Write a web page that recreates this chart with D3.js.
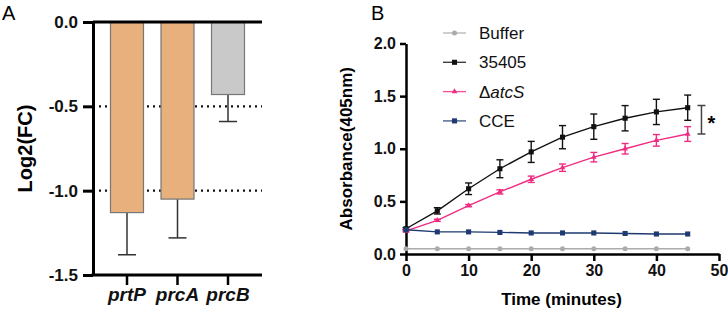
<!DOCTYPE html>
<html>
<head>
<meta charset="utf-8">
<script src="https://cdn.jsdelivr.net/npm/d3@7"></script>
<style>
  body { margin: 0; background: #fff; }
  svg { font-family: "Liberation Sans", Arial, sans-serif; }
</style>
</head>
<body>
<svg id="chart" width="728" height="312"></svg>
<script>
// Panel A data
const genes = ["prtP", "prcA", "prcB"];
const log2fc = [-1.13, -1.05, -0.43];
const log2fcErr = [0.25, 0.23, 0.16];
const barColors = ["#E8B07C", "#E8B07C", "#C9C9C9"];
const fcTicks = [0, -0.5, -1.0, -1.5];
const refLines = [-0.5, -1.0];

// Panel B data
const time = [0, 5, 10, 15, 20, 25, 30, 35, 40, 45];
const buffer = [0.05, 0.05, 0.05, 0.05, 0.05, 0.05, 0.05, 0.05, 0.05, 0.05];
const wt35405 = [0.24, 0.41, 0.62, 0.81, 0.97, 1.11, 1.21, 1.29, 1.35, 1.39];
const wt35405Err = [0.01, 0.03, 0.055, 0.085, 0.1, 0.11, 0.12, 0.12, 0.12, 0.12];
const atcS = [0.22, 0.32, 0.46, 0.59, 0.71, 0.82, 0.92, 1.0, 1.08, 1.14];
const atcSErr = [0.01, 0.01, 0.01, 0.02, 0.03, 0.035, 0.045, 0.05, 0.055, 0.07];
const cce = [0.23, 0.21, 0.21, 0.205, 0.2, 0.2, 0.2, 0.195, 0.19, 0.19];
const absTicks = [0, 0.5, 1.0, 1.5, 2.0];
const timeTicks = [0, 10, 20, 30, 40, 50];

const svg = d3.select("#chart");

// ---------- Panel A ----------
const xA = d3.scaleBand().domain(genes).range([93, 262]).padding(0.3465);
const yA = d3.scaleLinear().domain([-1.5, 0]).range([275, 22]);

svg.append("text").attr("x", 2).attr("y", 20)
  .style("font-size", "20px").text("A");

// dotted reference lines
svg.selectAll(".ref").data(refLines).enter().append("line")
  .attr("x1", 93).attr("x2", 262)
  .attr("y1", d => yA(d)).attr("y2", d => yA(d))
  .attr("stroke", "#111").attr("stroke-width", 2.2)
  .attr("stroke-dasharray", "2,4");

const barsA = genes.map((g, i) => ({ g, v: log2fc[i], e: log2fcErr[i], c: barColors[i] }));

// error bars (downward only)
const errA = svg.selectAll(".errA").data(barsA).enter().append("g");
errA.append("line")
  .attr("x1", d => xA(d.g) + xA.bandwidth() / 2).attr("x2", d => xA(d.g) + xA.bandwidth() / 2)
  .attr("y1", d => yA(d.v)).attr("y2", d => yA(d.v - d.e))
  .attr("stroke", "#333").attr("stroke-width", 1.5);
errA.append("line")
  .attr("x1", d => xA(d.g) + xA.bandwidth() / 2 - 9).attr("x2", d => xA(d.g) + xA.bandwidth() / 2 + 9)
  .attr("y1", d => yA(d.v - d.e)).attr("y2", d => yA(d.v - d.e))
  .attr("stroke", "#333").attr("stroke-width", 1.5);

svg.selectAll(".barA").data(barsA).enter().append("rect")
  .attr("x", d => xA(d.g))
  .attr("y", yA(0))
  .attr("width", xA.bandwidth())
  .attr("height", d => yA(d.v) - yA(0))
  .attr("fill", d => d.c)
  .attr("stroke", "#777").attr("stroke-width", 1.2);

// y axis
const yAxisA = svg.append("g").attr("transform", "translate(93,0)")
  .call(d3.axisLeft(yA).tickValues(fcTicks).tickFormat(d3.format(".1f")).tickSize(10).tickSizeOuter(0));
yAxisA.select(".domain").attr("stroke-width", 3);
yAxisA.selectAll(".tick line").attr("stroke-width", 3);
yAxisA.selectAll(".tick text").attr("x", -15)
  .style("font-size", "17px").style("font-weight", "bold").attr("fill", "#111")
  .text(d => d === 0 ? "0.0" : d3.format(".1f")(d).replace("−", "-"));

// top zero line
svg.append("line").attr("x1", 93).attr("x2", 262)
  .attr("y1", yA(0)).attr("y2", yA(0))
  .attr("stroke", "#000").attr("stroke-width", 3);

// bottom axis with category ticks
const xAxisA = svg.append("g").attr("transform", `translate(0,${yA(-1.5)})`)
  .call(d3.axisBottom(xA).tickSize(10).tickSizeOuter(0));
xAxisA.select(".domain").attr("stroke-width", 3).attr("d", "M91.5,0H262");
xAxisA.selectAll(".tick line").attr("stroke-width", 2.5);
xAxisA.selectAll(".tick text").attr("y", 13)
  .style("font-size", "19px").style("font-weight", "bold").style("font-style", "italic")
  .attr("fill", "#111");

svg.append("text")
  .attr("transform", `translate(32,${(yA(0) + yA(-1.5)) / 2}) rotate(-90)`)
  .attr("text-anchor", "middle")
  .style("font-size", "20px").style("font-weight", "bold")
  .text("Log2(FC)");

// ---------- Panel B ----------
const xB = d3.scaleLinear().domain([0, 50]).range([406, 719]);
const yB = d3.scaleLinear().domain([0, 2]).range([254, 43.5]);

svg.append("text").attr("x", 371).attr("y", 20)
  .style("font-size", "20px").text("B");

const series = [
  { name: "Buffer", vals: buffer, err: null, color: "#ABABAB", shape: "circle" },
  { name: "35405", vals: wt35405, err: wt35405Err, color: "#111111", shape: "square" },
  { name: "ΔatcS", vals: atcS, err: atcSErr, color: "#EE2D82", shape: "triangle" },
  { name: "CCE", vals: cce, err: null, color: "#1E3A70", shape: "square" }
];

function symbolFor(s) {
  if (s.shape === "circle") return d3.symbol(d3.symbolCircle, 20)();
  if (s.shape === "triangle") return d3.symbol(d3.symbolTriangle, 14)();
  return d3.symbol(d3.symbolSquare, 26)();
}

const line = d3.line().x(d => xB(d[0])).y(d => yB(d[1]));

// axes
const yAxisB = svg.append("g").attr("transform", "translate(406,0)")
  .call(d3.axisLeft(yB).tickValues(absTicks).tickFormat(d3.format(".1f")).tickSize(6).tickSizeOuter(0));
yAxisB.select(".domain").attr("stroke-width", 2.5);
yAxisB.selectAll(".tick line").attr("stroke-width", 2.5);
yAxisB.selectAll(".tick text").attr("x", -10)
  .style("font-size", "16px").style("font-weight", "bold").attr("fill", "#111");

const xAxisB = svg.append("g").attr("transform", `translate(0,${yB(0)})`)
  .call(d3.axisBottom(xB).tickValues(timeTicks).tickSize(7).tickSizeOuter(0));
xAxisB.select(".domain").attr("stroke-width", 2.5);
xAxisB.selectAll(".tick line").attr("stroke-width", 2.5);
xAxisB.selectAll(".tick text").attr("y", 11)
  .style("font-size", "16px").style("font-weight", "bold").attr("fill", "#111");

svg.append("text")
  .attr("x", (xB(0) + xB(50)) / 2 - 1).attr("y", 305)
  .attr("text-anchor", "middle")
  .style("font-size", "17px").style("font-weight", "bold")
  .text("Time (minutes)");

svg.append("text")
  .attr("transform", `translate(352,${(yB(0) + yB(2)) / 2}) rotate(-90)`)
  .attr("text-anchor", "middle")
  .style("font-size", "17px").style("font-weight", "bold")
  .text("Absorbance(405nm)");

// series
series.forEach(s => {
  const pts = time.map((t, i) => [t, s.vals[i], s.err ? s.err[i] : 0]);
  const g = svg.append("g");
  g.append("path").datum(pts)
    .attr("d", line).attr("fill", "none")
    .attr("stroke", s.color).attr("stroke-width", 1.4);
  if (s.err) {
    const eb = g.selectAll(".eb").data(pts).enter().append("g");
    eb.append("line")
      .attr("x1", d => xB(d[0])).attr("x2", d => xB(d[0]))
      .attr("y1", d => yB(d[1] + d[2])).attr("y2", d => yB(d[1] - d[2]))
      .attr("stroke", s.color).attr("stroke-width", 1.4);
    [1, -1].forEach(sign => {
      eb.append("line")
        .attr("x1", d => xB(d[0]) - 3.5).attr("x2", d => xB(d[0]) + 3.5)
        .attr("y1", d => yB(d[1] + sign * d[2])).attr("y2", d => yB(d[1] + sign * d[2]))
        .attr("stroke", s.color).attr("stroke-width", 1.4);
    });
  }
  g.selectAll(".pt").data(pts).enter().append("path")
    .attr("transform", d => `translate(${xB(d[0])},${yB(d[1])})`)
    .attr("d", symbolFor(s)).attr("fill", s.color);
});

// significance bracket
const bx = xB(47.2);
const brTop = yB(1.41), brBot = yB(1.14);
svg.append("path")
  .attr("d", `M${bx - 4},${brTop}H${bx + 4}M${bx},${brTop}V${brBot}M${bx - 4},${brBot}H${bx + 4}`)
  .attr("stroke", "#444").attr("stroke-width", 1.5).attr("fill", "none");
svg.append("text").attr("x", bx + 6).attr("y", (brTop + brBot) / 2 + 10)
  .style("font-size", "20px").style("font-weight", "bold").text("*");

// legend
const legend = svg.selectAll(".legend").data(series).enter().append("g")
  .attr("transform", (d, i) => `translate(443,${33 + i * 29.3})`);
legend.append("line").attr("x1", 0).attr("x2", 23)
  .attr("stroke", d => d.color).attr("stroke-width", 1.4).attr("opacity", 0.8);
legend.append("path").attr("transform", "translate(11.5,0)")
  .attr("d", d => symbolFor(d)).attr("fill", d => d.color);
const lt = legend.append("text").attr("x", 36).attr("y", 6)
  .style("font-size", "17px").attr("fill", "#111");
lt.each(function (d) {
  const t = d3.select(this);
  if (d.name.startsWith("Δ")) {
    t.append("tspan").text("Δ");
    t.append("tspan").style("font-style", "italic").text(d.name.slice(1));
  } else {
    t.text(d.name);
  }
});
</script>
</body>
</html>
